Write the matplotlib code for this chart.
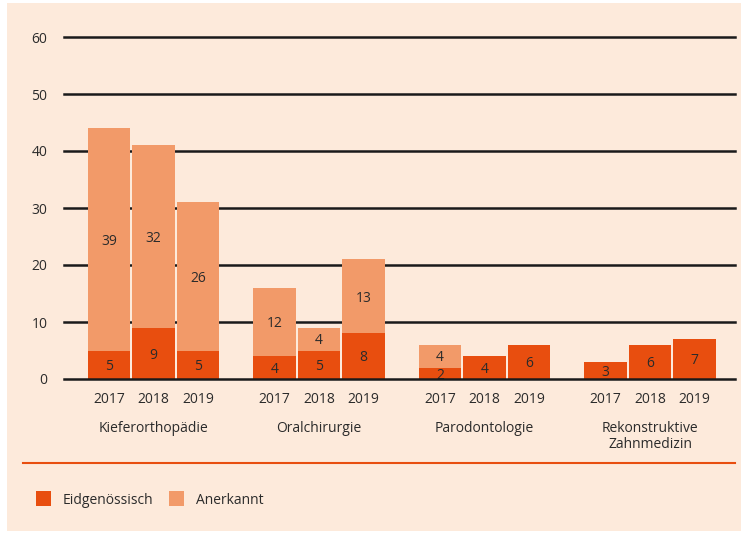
import numpy as np
import matplotlib.pyplot as plt
from matplotlib.patches import Rectangle

# Daten
kategorien = ['Kieferorthopädie', 'Oralchirurgie', 'Parodontologie', 'Rekonstruktive\nZahnmedizin']
jahre = ['2017', '2018', '2019']
eidg = [[5, 9, 5], [4, 5, 8], [2, 4, 6], [3, 6, 7]]
anerk = [[39, 32, 26], [12, 4, 13], [4, 0, 0], [0, 0, 0]]

dunkel = '#e84e0f'
hell = '#f29a69'
hg = '#fdeadb'
txt = '#2b2b2b'

plt.rcParams['font.family'] = ['Open Sans', 'DejaVu Sans']
fs = 10

fig = plt.figure(figsize=(7.49, 5.34), dpi=100, facecolor='white')
# Hintergrundfläche
fig.patches.append(Rectangle((7/749, 3/534), (741-7)/749, (531-3)/534,
                             transform=fig.transFigure, facecolor=hg,
                             edgecolor='none', zorder=-5))

ax = fig.add_axes([64/749, 155/534, (735-64)/749, (497-155)/534])
ax.set_facecolor('none')
ax.set_zorder(2)

gruppe = 3.72
breite = 0.95
for g, kat in enumerate(kategorien):
    for j, jahr in enumerate(jahre):
        x = g*gruppe + j
        e = eidg[g][j]
        a = anerk[g][j]
        ax.bar(x, e, width=breite, color=dunkel, zorder=3)
        ax.text(x, e/2 - 0.3, str(e), ha='center', va='center', fontsize=fs, color=txt, zorder=4)
        if a > 0:
            ax.bar(x, a, bottom=e, width=breite, color=hell, zorder=3)
            ax.text(x, e + a/2 - 0.3, str(a), ha='center', va='center', fontsize=fs, color=txt, zorder=4)
        ax.text(x, -3.6, jahr, ha='center', va='center', fontsize=fs, color=txt)
    ax.text(g*gruppe + 1, -7.4, kat, ha='center', va='top', fontsize=fs, color=txt,
            linespacing=1.05)

for y in range(0, 70, 10):
    ax.axhline(y, color='#1a1a1a', lw=1.8, zorder=2 if y else 4, clip_on=False)

ax.set_xlim(-1.01, 14.07)
ax.set_ylim(0, 60)
ax.set_yticks(range(0, 70, 10))
ax.tick_params(axis='y', length=0, pad=12, labelsize=fs, labelcolor=txt)
ax.set_xticks([])
for s in ax.spines.values():
    s.set_visible(False)

# Trennlinie
fig.add_artist(plt.Line2D([23/749, 735/749], [1 - 463/534, 1 - 463/534],
                          color=dunkel, lw=1.5))

# Legende
for xp, farbe, label in [(36, dunkel, 'Eidgenössisch'), (169, hell, 'Anerkannt')]:
    fig.patches.append(Rectangle((xp/749, 1 - 506/534), 15/749, 15/534,
                                 transform=fig.transFigure, facecolor=farbe,
                                 edgecolor='none'))
    fig.text((xp + 27)/749, 1 - 500/534, label, ha='left', va='center',
             fontsize=fs, color=txt)

fig.savefig('out.png', dpi=100, facecolor='white')
